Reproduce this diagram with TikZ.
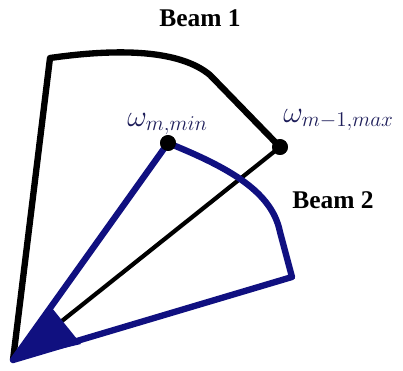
\documentclass[tikz,border=0pt]{standalone}
\usepackage{fontspec}
\setmainfont{Liberation Serif}
\usepackage{tikz}
\usetikzlibrary{positioning}
\definecolor{beamblue}{RGB}{16,16,128}
\definecolor{labelink}{RGB}{30,30,90}

\begin{document}
\begin{tikzpicture}[x=0.02cm,y=-0.02cm,
 beamone/.style={draw=black,line width=3.6pt,line join=round},
 beamaxis/.style={draw=black,line width=2.4pt},
 beamtwo/.style={draw=beamblue,line width=3.6pt,line join=round},
 dot/.style={circle,fill=black,inner sep=0pt,minimum size=9pt},
 title/.style={font=\bfseries\fontsize{14.5}{16}\selectfont},
 omlabel/.style={text=labelink,inner sep=0pt,font=\fontsize{17}{19}\selectfont}]
\useasboundingbox (0,0) rectangle (403,370);
\coordinate (o) at (13,360);
\coordinate (b1l) at (50,58);
\coordinate (b2r) at (292,277);
\node[dot] (max) at (280,147) {};
\node[dot] (min) at (168,143) {};
\draw[beamaxis] (o) -- (max.center);
\draw[beamone] (o) -- (b1l) .. controls (120,48) and (180,50) .. (210,75) -- (max.center);
\draw[beamtwo] (o) -- (min.center) .. controls (230,168) and (272,192) .. (280,232) -- (b2r) -- cycle;
\fill[beamblue] (o) -- (52,308) -- (81,344) -- cycle;
\node[dot] at (max) {};
\node[dot] at (min) {};
\node[title] (t1) at (200,18) {Beam 1};
\node[title] (t2) at (333,200) {Beam 2};
\node[omlabel,anchor=base west] (lmin) at (127,126) {$\omega_{m,min}$};
\node[omlabel,anchor=base west] (lmax) at (283,122) {$\omega_{m-1,max}$};
\end{tikzpicture}
\end{document}
